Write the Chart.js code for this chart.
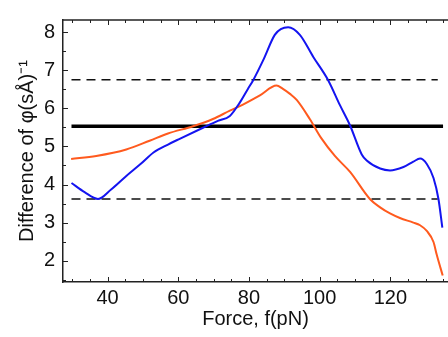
<!DOCTYPE html>
<html>
<head>
<meta charset="utf-8">
<script src="https://cdn.jsdelivr.net/npm/chart.js@4.4.0/dist/chart.umd.min.js"></script>
<style>
  html, body { margin: 0; padding: 0; background: #fff; }
  #wrap { width: 448px; height: 337px; position: relative; }
</style>
</head>
<body>
<div id="wrap"><canvas id="chart"></canvas></div>
<script>
// tick labels
var xTicks = [40, 60, 80, 100, 120];
var yTicks = [2, 3, 4, 5, 6, 7, 8];

// blue curve
var blueForce = [29.8, 33.5, 37.3, 41.0, 45.0, 49.5, 53.0, 57.1, 60.4, 67.0, 71.2, 74.6, 77.4, 79.7, 81.2, 84.0, 87.3, 89.0, 91.1, 94.4, 98.2, 102.4, 105.7, 108.6, 111.9, 113.3, 117.1, 119.9, 123.7, 126.5, 128.4, 130.3, 132.2, 133.6, 134.7];
var blueDiff  = [4.04, 3.80, 3.62, 3.87, 4.20, 4.55, 4.84, 5.05, 5.20, 5.49, 5.67, 5.80, 6.15, 6.51, 6.74, 7.26, 7.93, 8.08, 8.13, 7.93, 7.35, 6.74, 6.09, 5.55, 4.79, 4.63, 4.42, 4.37, 4.46, 4.60, 4.68, 4.54, 4.17, 3.62, 2.87];

// orange curve
var orangeForce = [29.7, 36.8, 45.3, 51.9, 57.1, 64.2, 69.8, 74.6, 78.3, 83.1, 87.8, 89.5, 91.6, 93.5, 97.2, 100.5, 104.3, 108.6, 114.2, 117.1, 119.9, 122.7, 126.5, 128.4, 130.3, 132.2, 133.1, 134.8];
var orangeDiff  = [4.67, 4.75, 4.92, 5.15, 5.34, 5.53, 5.72, 5.94, 6.10, 6.34, 6.60, 6.52, 6.38, 6.22, 5.72, 5.21, 4.75, 4.33, 3.62, 3.40, 3.24, 3.12, 3.00, 2.93, 2.78, 2.49, 2.16, 1.61];

// horizontal reference levels
var solidForce = [29.8, 134.9];
var dashForce = [29.8, 133.4];
var upperBand = 6.75;
var meanLevel = 5.53;
var lowerBand = 3.62;

function pts(xs, ys) {
    return xs.map(function(x, i) { return { x: x, y: ys[i] }; });
}
function flat(xs, level) {
    return xs.map(function(x) { return { x: x, y: level }; });
}

var tickFont = { family: '"Liberation Sans", Arial, sans-serif', size: 20 };

// inward ticks + top frame line
var frameTicks = {
    id: 'frameTicks',
    beforeDatasetsDraw: function(chart) {
        var ctx = chart.ctx, a = chart.chartArea;
        var xs = chart.scales.x, ys = chart.scales.y;
        ctx.save();
        ctx.strokeStyle = '#222';
        ctx.lineWidth = 1;
        ctx.beginPath();
        for (var f = 30; f <= 135; f += 5) {
            var px = Math.round(xs.getPixelForValue(f)) + 0.5;
            var len = f % 20 === 0 ? 5 : 3;
            ctx.moveTo(px, a.bottom); ctx.lineTo(px, a.bottom - len);
            ctx.moveTo(px, a.top); ctx.lineTo(px, a.top + len);
        }
        for (var v = 1.5; v <= 8.01; v += 0.5) {
            var py = Math.round(ys.getPixelForValue(v)) + 0.5;
            var l2 = v % 1 === 0 ? 5 : 3;
            ctx.moveTo(a.left, py); ctx.lineTo(a.left + l2, py);
        }
        ctx.stroke();
        ctx.lineWidth = 1.5;
        ctx.beginPath();
        ctx.moveTo(a.left, a.top); ctx.lineTo(a.right, a.top);
        ctx.stroke();
        ctx.restore();
    }
};

new Chart(document.getElementById('chart'), {
    type: 'line',
    data: {
        datasets: [
            { data: pts(blueForce, blueDiff), borderColor: '#1414f0', borderWidth: 2, pointRadius: 0, cubicInterpolationMode: 'monotone', order: 0 },
            { data: pts(orangeForce, orangeDiff), borderColor: '#ff5a1e', borderWidth: 2, pointRadius: 0, cubicInterpolationMode: 'monotone', order: 1 },
            { data: flat(solidForce, meanLevel), borderColor: '#000', borderWidth: 3.5, pointRadius: 0, order: 2 },
            { data: flat(dashForce, upperBand), borderColor: '#111', borderWidth: 1.5, borderDash: [9, 6], pointRadius: 0, order: 3 },
            { data: flat(dashForce, lowerBand), borderColor: '#111', borderWidth: 1.5, borderDash: [9, 6], pointRadius: 0, order: 4 }
        ]
    },
    options: {
        responsive: true,
        maintainAspectRatio: false,
        animation: false,
        layout: { padding: { top: 9, right: 0, left: 0, bottom: 0 } },
        plugins: { legend: { display: false }, tooltip: { enabled: false } },
        scales: {
            x: {
                type: 'linear',
                min: 27.4,
                max: 136.3,
                afterBuildTicks: function(s) { s.ticks = xTicks.map(function(v) { return { value: v }; }); },
                afterFit: function(s) { s.height = 55; },
                grid: { display: false, drawTicks: false },
                border: { display: true, color: '#222', width: 1.5 },
                ticks: { font: tickFont, color: '#111', padding: 4, maxRotation: 0 },
                title: { display: true, text: 'Force, f(pN)', font: tickFont, color: '#111', padding: { top: 0, bottom: 6 } }
            },
            y: {
                min: 1.44,
                max: 8.32,
                afterBuildTicks: function(s) { s.ticks = yTicks.map(function(v) { return { value: v }; }); },
                afterFit: function(s) { s.width = 63; },
                grid: { display: false, drawTicks: false },
                border: { display: true, color: '#222', width: 1.5 },
                ticks: { font: tickFont, color: '#111', padding: 8 },
                title: { display: true, text: 'Difference of φ(sÅ)⁻¹', font: tickFont, color: '#111', padding: { top: 15, bottom: 0 } }
            }
        }
    },
    plugins: [frameTicks]
});
</script>
</body>
</html>
